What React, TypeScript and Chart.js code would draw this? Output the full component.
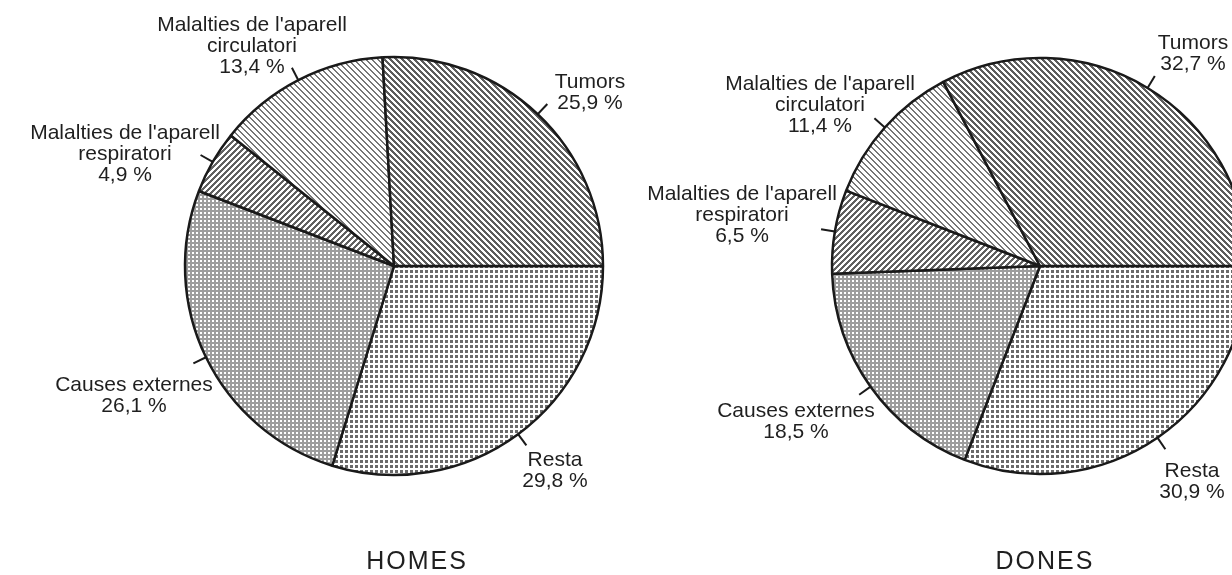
import React, { useEffect, useRef } from "react";
import { Chart, registerables } from "chart.js";

Chart.register(...registerables);

// Slices in drawing order (clockwise from 3 o'clock)
const categories = [
  "Resta",
  "Causes externes",
  "Malalties de l'aparell respiratori",
  "Malalties de l'aparell circulatori",
  "Tumors",
];
const labelLines = [
  ["Resta"],
  ["Causes externes"],
  ["Malalties de l'aparell", "respiratori"],
  ["Malalties de l'aparell", "circulatori"],
  ["Tumors"],
];
const homesValues = [29.8, 26.1, 4.9, 13.4, 25.9];
const donesValues = [30.9, 18.5, 6.5, 11.4, 32.7];
const chartTitles = ["HOMES", "DONES"];

// Layout (positions of label text blocks, in each canvas's own pixels)
const homesLayout = {
  left: 0,
  width: 700,
  padding: { left: 88, right: 0, top: 0, bottom: 43 },
  radius: 209,
  labels: [
    [555, 460],
    [134, 385],
    [125, 133],
    [252, 25],
    [590, 82],
  ],
  title: [416, 562],
};
const donesLayout = {
  left: 616,
  width: 616,
  padding: { left: 232, right: 0, top: 0, bottom: 43 },
  radius: 208,
  labels: [
    [576, 471],
    [180, 411],
    [126, 194],
    [204, 84],
    [577, 43],
  ],
  title: [428, 562],
};

const FONT_FAMILY = '"Liberation Sans", Arial, Helvetica, sans-serif';
const TEXT_COLOR = "#1f1f1f";
const LINE_COLOR = "#1a1a1a";

function makePattern(
  ctx: CanvasRenderingContext2D,
  w: number,
  h: number,
  bg: string,
  fg: string,
  on: (x: number, y: number) => boolean
) {
  const c = document.createElement("canvas");
  c.width = w;
  c.height = h;
  const g = c.getContext("2d")!;
  g.fillStyle = bg;
  g.fillRect(0, 0, w, h);
  g.fillStyle = fg;
  for (let y = 0; y < h; y++)
    for (let x = 0; x < w; x++) if (on(x, y)) g.fillRect(x, y, 1, 1);
  return ctx.createPattern(c, "repeat") as CanvasPattern;
}

function buildPatterns(ctx: CanvasRenderingContext2D) {
  const mod = (a: number, n: number) => ((a % n) + n) % n;
  const resta = makePattern(ctx, 5, 5, "#ffffff", "#6a6a6a", (x, y) => x < 3 && y < 3);
  const causes = makePattern(ctx, 4, 4, "#9d9d9d", "#ffffff", (x, y) => x < 2 && y < 2);
  const resp = makePattern(ctx, 6, 6, "#ffffff", "#626262", (x, y) => mod(x + y, 6) < 3);
  const circ = makePattern(ctx, 6, 6, "#ffffff", "#777777", (x, y) => mod(x - y, 6) < 2);
  const tumors = makePattern(ctx, 6, 6, "#ffffff", "#5e5e5e", (x, y) => mod(x - y, 6) < 3);
  return [resta, causes, resp, circ, tumors];
}

const fmt = (v: number) => v.toFixed(1).replace(".", ",") + " %";

const labelPlugin = {
  id: "pieLabels",
  afterDraw(chart: any, _args: any, opts: any) {
    const ctx: CanvasRenderingContext2D = chart.ctx;
    const meta = chart.getDatasetMeta(0);
    const values: number[] = chart.data.datasets[0].data;
    ctx.save();
    meta.data.forEach((arc: any, i: number) => {
      const p = arc.getProps(["x", "y", "startAngle", "endAngle", "outerRadius"], true);
      const mid = (p.startAngle + p.endAngle) / 2;
      ctx.beginPath();
      ctx.moveTo(p.x + p.outerRadius * Math.cos(mid), p.y + p.outerRadius * Math.sin(mid));
      ctx.lineTo(
        p.x + (p.outerRadius + 14) * Math.cos(mid),
        p.y + (p.outerRadius + 14) * Math.sin(mid)
      );
      ctx.lineWidth = 2;
      ctx.strokeStyle = LINE_COLOR;
      ctx.stroke();

      const pos = opts.labels[i];
      const lines = [...labelLines[i], fmt(values[i])];
      ctx.font = `21px ${FONT_FAMILY}`;
      ctx.fillStyle = TEXT_COLOR;
      ctx.textAlign = "center";
      ctx.textBaseline = "middle";
      lines.forEach((t, k) => ctx.fillText(t, pos[0], pos[1] + k * 21));
    });
    ctx.font = `25px ${FONT_FAMILY}`;
    (ctx as any).letterSpacing = "2px";
    ctx.fillStyle = TEXT_COLOR;
    ctx.textAlign = "center";
    ctx.textBaseline = "middle";
    ctx.fillText(opts.title, opts.titlePos[0] + 1, opts.titlePos[1]);
    ctx.restore();
  },
};

function makeChart(canvas: HTMLCanvasElement, values: number[], layout: any, title: string) {
  const ctx = canvas.getContext("2d")!;
  const patterns = buildPatterns(ctx);
  return new Chart(canvas, {
    type: "pie",
    data: {
      labels: categories,
      datasets: [
        {
          data: values,
          backgroundColor: patterns,
          borderColor: LINE_COLOR,
          borderWidth: 2.5,
          clip: false,
        } as any,
      ],
    },
    options: {
      responsive: false,
      animation: false,
      devicePixelRatio: 1,
      events: [],
      rotation: 90,
      radius: layout.radius,
      layout: { padding: layout.padding },
      plugins: {
        legend: { display: false },
        tooltip: { enabled: false },
        title: { display: false },
        pieLabels: { labels: layout.labels, title, titlePos: layout.title },
      } as any,
    } as any,
    plugins: [labelPlugin],
  });
}

export default function App() {
  const leftRef = useRef<HTMLCanvasElement>(null);
  const rightRef = useRef<HTMLCanvasElement>(null);

  useEffect(() => {
    const a = makeChart(leftRef.current!, homesValues, homesLayout, chartTitles[0]);
    const b = makeChart(rightRef.current!, donesValues, donesLayout, chartTitles[1]);
    return () => {
      a.destroy();
      b.destroy();
    };
  }, []);

  return (
    <div
      style={{
        position: "absolute",
        left: 0,
        top: 0,
        width: 1232,
        height: 575,
        background: "#ffffff",
        overflow: "hidden",
      }}
    >
      <canvas
        ref={leftRef}
        width={homesLayout.width}
        height={575}
        style={{ position: "absolute", left: homesLayout.left, top: 0, width: homesLayout.width, height: 575 }}
      />
      <canvas
        ref={rightRef}
        width={donesLayout.width}
        height={575}
        style={{ position: "absolute", left: donesLayout.left, top: 0, width: donesLayout.width, height: 575 }}
      />
    </div>
  );
}
